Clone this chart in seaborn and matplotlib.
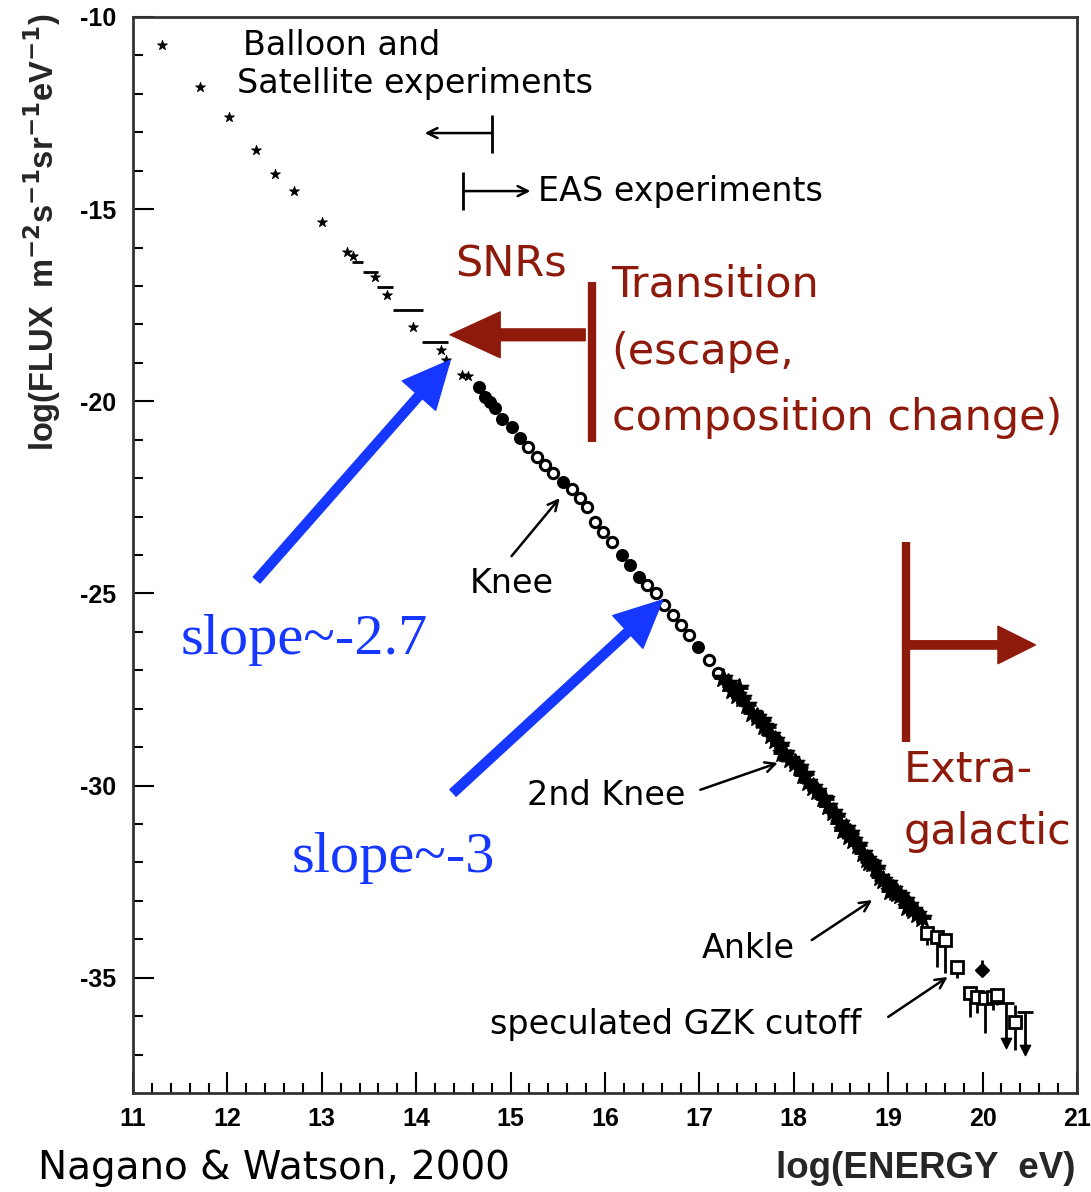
import numpy as np
import pandas as pd
import matplotlib
matplotlib.use("Agg")
import matplotlib.pyplot as plt
import seaborn as sns
from matplotlib.patches import FancyArrowPatch

# ---------------- data (log10 E [eV], log10 flux) ----------------
star_x = [11.31, 11.71, 12.02, 12.30, 12.50, 12.71, 13.00, 13.27, 13.33, 13.56,
          13.69, 13.97, 14.26, 14.32, 14.49, 14.55]
star_y = [-10.73, -11.82, -12.60, -13.46, -14.09, -14.53, -15.33, -16.11, -16.22, -16.77,
          -17.23, -18.07, -18.67, -18.93, -19.32, -19.34]

bin_lo = [13.32, 13.44, 13.58, 13.75, 14.06]
bin_hi = [13.44, 13.60, 13.75, 14.07, 14.34]
bin_y = [-16.38, -16.64, -17.03, -17.62, -18.46]

filled_x = [14.66, 14.73, 14.78, 14.84, 14.91, 15.02, 15.10, 15.56, 16.18, 16.27, 16.36, 16.98]
filled_y = [-19.63, -19.89, -20.02, -20.17, -20.46, -20.67, -20.95, -22.10, -24.00, -24.25, -24.57, -26.39]

open_x = [15.18, 15.28, 15.36, 15.45, 15.65, 15.74, 15.81, 15.89, 15.98, 16.07,
          16.45, 16.54, 16.63, 16.72, 16.80, 16.89, 17.10, 17.20]
open_y = [-21.19, -21.45, -21.66, -21.87, -22.28, -22.52, -22.75, -23.14, -23.40, -23.66,
          -24.78, -24.99, -25.30, -25.56, -25.82, -26.08, -26.73, -27.07]

ast_x = [17.25, 17.30, 17.35, 17.40, 17.45, 17.50, 17.56, 17.61, 17.66, 17.72, 17.76, 17.80,
         17.85, 17.91, 17.96, 18.01, 18.05, 18.10, 18.15, 18.20, 18.25, 18.31, 18.36, 18.41,
         18.45, 18.49, 18.52, 18.55, 18.60, 18.63, 18.68, 18.73, 18.78, 18.83, 18.87, 18.91,
         18.95, 19.00, 19.05, 19.09, 19.13, 19.18, 19.22, 19.26, 19.31, 19.36,
         17.42, 17.68, 17.88, 18.12, 18.33, 18.58, 18.80, 19.02, 19.20]
ast_y = [-27.20, -27.33, -27.50, -27.64, -27.72, -27.90, -28.10, -28.21, -28.30, -28.48, -28.68, -28.81,
         -28.95, -29.15, -29.30, -29.41, -29.52, -29.72, -29.92, -30.04, -30.15, -30.32, -30.52, -30.69,
         -30.80, -30.97, -31.16, -31.10, -31.23, -31.42, -31.55, -31.75, -31.90, -32.01, -32.15, -32.38,
         -32.45, -32.53, -32.70, -32.79, -32.85, -32.98, -33.12, -33.24, -33.35, -33.45,
         -27.45, -28.45, -29.15, -29.70, -30.35, -31.30, -32.00, -32.75, -33.15]

uhe_x = [19.41, 19.52, 19.60, 19.73, 19.87, 19.94, 20.03, 20.11, 20.15, 20.34]
uhe_y = [-33.84, -33.94, -34.02, -34.72, -35.40, -35.50, -35.53, -35.50, -35.45, -36.15]
uhe_err_lo = [0.30, 0.78, 0.86, 0.30, 0.62, 0.42, 0.90, 0.35, 0.25, 0.73]
uhe_err_hi = [0.10, 0.10, 0.10, 0.10, 0.10, 0.10, 0.10, 0.10, 0.10, 0.44]

agasa_x = [19.99]
agasa_y = [-34.80]

lim_x = [20.25, 20.45]
lim_top = [-35.66, -35.89]
lim_bottom = [-36.70, -36.88]

x_ticks = list(range(11, 22))
y_ticks = [-35, -30, -25, -20, -15, -10]

BROWN = "#8E1A0C"
BLUE = "#1637FF"

# ---------------- figure ----------------
sns.set_theme(style="white")
plt.rcParams['font.family'] = ['DejaVu Sans']
plt.rcParams['axes.unicode_minus'] = False

fig = plt.figure(figsize=(10.91, 11.92), dpi=100)
ax = fig.add_axes([133 / 1091, 1 - 1093 / 1192, 944 / 1091, 1076 / 1192])

df_star = pd.DataFrame({"E": star_x, "F": star_y})
df_fill = pd.DataFrame({"E": filled_x, "F": filled_y})
df_open = pd.DataFrame({"E": open_x, "F": open_y})
df_ast = pd.DataFrame({"E": ast_x, "F": ast_y})

sns.scatterplot(data=df_star, x="E", y="F", marker="*", s=55, color="black",
                edgecolor="black", linewidth=0.6, ax=ax, zorder=3)
ax.hlines(bin_y, bin_lo, bin_hi, color="black", lw=2, zorder=3)
sns.scatterplot(data=df_fill, x="E", y="F", marker="o", s=70, color="black",
                edgecolor="black", linewidth=1, ax=ax, zorder=3)
sns.scatterplot(data=df_open, x="E", y="F", marker="o", s=55, color="white",
                edgecolor="black", linewidth=2.2, ax=ax, zorder=3)
sns.scatterplot(data=df_ast, x="E", y="F", marker="*", s=190, color="black",
                edgecolor="black", linewidth=1.2, ax=ax, zorder=3)
sns.scatterplot(data=df_ast, x="E", y="F", marker="+", s=150, color="black",
                linewidth=2, ax=ax, zorder=3)

ax.errorbar(uhe_x, uhe_y, yerr=[uhe_err_lo, uhe_err_hi], fmt="s", mfc="white",
            mec="black", mew=2, ms=8, ecolor="black", elinewidth=2, capsize=0, zorder=4)
ax.errorbar(agasa_x, agasa_y, yerr=[[0.1], [0.25]], fmt="D", color="black", ms=7,
            elinewidth=2, capsize=0, zorder=4)
ax.vlines(lim_x, lim_bottom, lim_top, color="black", lw=2, zorder=4)
ax.scatter(lim_x, lim_top, marker="_", s=120, color="black", linewidths=2, zorder=4)
ax.scatter(lim_x, lim_bottom, marker="v", s=55, color="black", zorder=4)

# ---------------- axes ----------------
ax.set_xlim(11, 21)
ax.set_ylim(-38, -10)
ax.set_xticks(x_ticks)
ax.set_xticks(np.arange(11, 21.01, 0.2), minor=True)
ax.set_yticks(y_ticks)
ax.set_yticks(np.arange(-37, -9.5, 1), minor=True)
ax.set_xticklabels([str(t) for t in x_ticks])
ax.set_yticklabels([str(t) for t in y_ticks])
ax.tick_params(which="both", direction="in", color="black", width=1.5,
               bottom=True, left=True, top=False, right=False)
ax.tick_params(which="major", length=15, labelsize=18,
               labelfontfamily="Liberation Sans", labelcolor="black")
ax.tick_params(which="minor", length=7)
ax.tick_params(axis="x", which="major", pad=10)
ax.tick_params(axis="y", which="major", pad=12)
for sp in ax.spines.values():
    sp.set_color("#333333")
    sp.set_linewidth(2)
ax.set_xlabel("")
ax.set_ylabel("")

fig.text(1075 / 1091, 1 - 1168 / 1192, "log(ENERGY  eV)", ha="right", va="center",
         family="Liberation Sans", fontweight="bold", fontsize=26.5)
fig.text(42 / 1091, 1 - 14 / 1192,
         r"log(FLUX  m$^{\mathbf{-2}}$s$^{\mathbf{-1}}$sr$^{\mathbf{-1}}$eV$^{\mathbf{-1}}$)",
         rotation=90, ha="center", va="top", family="Liberation Sans",
         fontweight="bold", fontsize=23.5)
fig.text(38 / 1091, 1 - 1168 / 1192, "Nagano & Watson, 2000", ha="left", va="center",
         fontsize=28, color="black")

# ---------------- annotations ----------------
txt = dict(fontsize=24, color="black", va="center", ha="left")
ax.text(12.17, -10.75, "Balloon and", **txt)
ax.text(12.10, -11.74, "Satellite experiments", **txt)
ax.text(15.29, -14.53, "EAS experiments", **txt)
ax.text(14.57, -24.75, "Knee", **txt)
ax.text(15.17, -30.27, "2nd Knee", **txt)
ax.text(17.03, -34.23, "Ankle", **txt)
ax.text(14.78, -36.23, "speculated GZK cutoff", **txt)

thin = dict(arrowstyle="->", lw=1.8, color="black", mutation_scale=18,
            shrinkA=0, shrinkB=0)
ax.annotate("", xy=(14.09, -13.02), xytext=(14.80, -13.02), arrowprops=thin)
ax.vlines([14.80], -13.54, -12.55, color="black", lw=2)
ax.annotate("", xy=(15.21, -14.53), xytext=(14.50, -14.53), arrowprops=thin)
ax.vlines([14.50], -15.02, -14.03, color="black", lw=2)
ax.annotate("", xy=(15.52, -22.52), xytext=(15.01, -24.03), arrowprops=thin)
ax.annotate("", xy=(17.83, -29.41), xytext=(17.01, -30.11), arrowprops=thin)
ax.annotate("", xy=(18.83, -32.98), xytext=(18.19, -34.02), arrowprops=thin)
ax.annotate("", xy=(19.63, -34.98), xytext=(19.00, -36.02), arrowprops=thin)

# brown annotations
btxt = dict(fontsize=31, color=BROWN, va="center", ha="left")
ax.text(14.41, -16.45, "SNRs", **btxt)
ax.text(16.07, -16.97, "Transition", **btxt)
ax.text(16.07, -18.72, "(escape,", **btxt)
ax.text(16.07, -20.43, "composition change)", **btxt)
ax.text(19.16, -29.59, "Extra-", **btxt)
ax.text(19.16, -31.21, "galactic", **btxt)
ax.vlines([15.86], -21.06, -16.90, color=BROWN, lw=6)
ax.vlines([19.19], -28.87, -23.66, color=BROWN, lw=6)
ax.add_patch(FancyArrowPatch((15.79, -18.27), (14.36, -18.27),
                             arrowstyle="simple,head_length=3.6,head_width=3.3,tail_width=0.85",
                             mutation_scale=10, color=BROWN, shrinkA=0, shrinkB=0, zorder=5))
ax.add_patch(FancyArrowPatch((19.19, -26.34), (20.56, -26.34),
                             arrowstyle="simple,head_length=2.7,head_width=2.7,tail_width=0.6",
                             mutation_scale=10, color=BROWN, shrinkA=0, shrinkB=0, zorder=5))

# blue annotations
ax.add_patch(FancyArrowPatch((12.31, -24.65), (14.36, -18.93),
                             arrowstyle="simple,head_length=3.4,head_width=3.2,tail_width=0.65",
                             mutation_scale=10, color=BLUE, shrinkA=0, shrinkB=0, zorder=5))
ax.add_patch(FancyArrowPatch((14.39, -30.19), (16.61, -25.17),
                             arrowstyle="simple,head_length=3.4,head_width=3.2,tail_width=0.65",
                             mutation_scale=10, color=BLUE, shrinkA=0, shrinkB=0, zorder=5))
stxt = dict(fontsize=42, color=BLUE, va="center", ha="left", family="Liberation Serif")
ax.text(11.50, -26.21, "slope~-2.7", **stxt)
ax.text(12.68, -31.88, "slope~-3", **stxt)

fig.canvas.draw()
for lab in ax.get_xticklabels() + ax.get_yticklabels():
    lab.set_fontweight("bold")
    lab.set_family("Liberation Sans")
    lab.set_fontsize(18)

fig.savefig("out.png", dpi=100)
